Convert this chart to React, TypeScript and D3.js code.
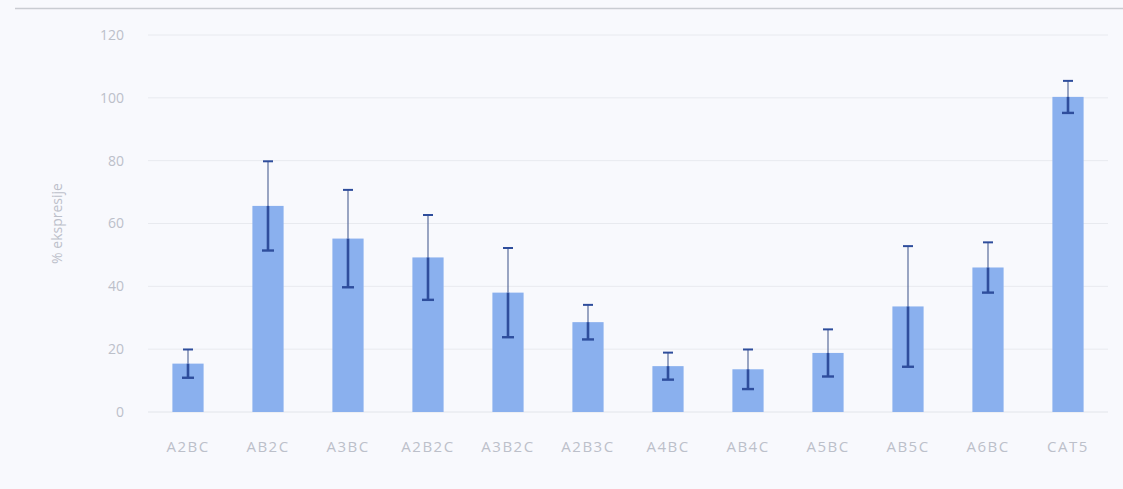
import React from 'react';
import * as d3 from 'd3';

const categories: string[] = ['A2BC', 'AB2C', 'A3BC', 'A2B2C', 'A3B2C', 'A2B3C', 'A4BC', 'AB4C', 'A5BC', 'AB5C', 'A6BC', 'CAT5'];
const values: number[] = [15.4, 65.6, 55.2, 49.2, 38.0, 28.6, 14.6, 13.6, 18.8, 33.6, 46.0, 100.3];
const errors: number[] = [4.5, 14.2, 15.5, 13.5, 14.2, 5.5, 4.3, 6.3, 7.5, 19.2, 8.0, 5.1];
const yTicks: number[] = [0, 20, 40, 60, 80, 100, 120];

const width: number = 1123;
const height: number = 489;
const margin = { top: 35, right: 15, bottom: 77, left: 148 };

export default function App() {
  // scales
  const xScale: any = d3.scaleBand()
                        .domain(categories)
                        .range([margin.left, width - margin.right])
                        .paddingInner(0.61)
                        .paddingOuter(0.305);

  const yScale: any = d3.scaleLinear()
                        .domain([0, 120])
                        .range([height - margin.bottom, margin.top]);

  const bw: number = xScale.bandwidth();
  const labelColor = '#bcc0ca';
  const errColor = '#2e4d9c';

  return (
    <svg width={width} height={height}
         style={{ position: 'absolute', left: 0, top: 0, background: '#f8f9fd', fontFamily: 'Open Sans, sans-serif' }}>
      <rect x={0} y={0} width={width} height={height} fill="#f8f9fd" />
      {/* frame line across the top */}
      <line x1={15} x2={width} y1={8.5} y2={8.5} stroke="#c9ccd2" strokeWidth={1.5} />

      {/* gridlines + y tick labels */}
      {yTicks.map((t) => (
        <g key={t}>
          {t > 0 && (
            <line x1={margin.left} x2={width - margin.right} y1={yScale(t)} y2={yScale(t)}
                  stroke="#e8eaef" strokeWidth={1} />
          )}
          <text x={124} y={yScale(t)} dy="0.35em" textAnchor="end" fontSize={14} fill={labelColor}>{t}</text>
        </g>
      ))}
      <line x1={margin.left} x2={width - margin.right} y1={yScale(0)} y2={yScale(0)} stroke="#e2e5ea" strokeWidth={1} />

      {/* y axis title */}
      <text transform={`translate(62,${(yScale(0) + yScale(120)) / 2}) rotate(-90)`}
            textAnchor="middle" fontSize={14} fill={labelColor}>% ekspresije</text>

      {/* bars */}
      {categories.map((c, i) => (
        <rect key={c} x={xScale(c)} y={yScale(values[i])} width={bw}
              height={yScale(0) - yScale(values[i])} fill="#8ab0ee" />
      ))}

      {/* error bars */}
      {categories.map((c, i) => {
        const cx = (xScale(c) as number) + bw / 2;
        const hi = yScale(values[i] + errors[i]);
        const lo = yScale(values[i] - errors[i]);
        const top = yScale(values[i]);
        return (
          <g key={c + '-err'}>
            <line x1={cx} x2={cx} y1={hi} y2={top} stroke="#5a6c9c" strokeWidth={1.2} />
            <line x1={cx} x2={cx} y1={top} y2={lo} stroke={errColor} strokeWidth={2.6} />
            <line x1={cx - 5} x2={cx + 5} y1={hi} y2={hi} stroke={errColor} strokeWidth={2} />
            <line x1={cx - 6} x2={cx + 6} y1={lo} y2={lo} stroke={errColor} strokeWidth={2.4} />
          </g>
        );
      })}

      {/* x labels */}
      {categories.map((c) => (
        <text key={c + '-lbl'} x={(xScale(c) as number) + bw / 2} y={452} textAnchor="middle"
              fontSize={15} fill={labelColor} letterSpacing={1.5}>{c}</text>
      ))}
    </svg>
  );
}
